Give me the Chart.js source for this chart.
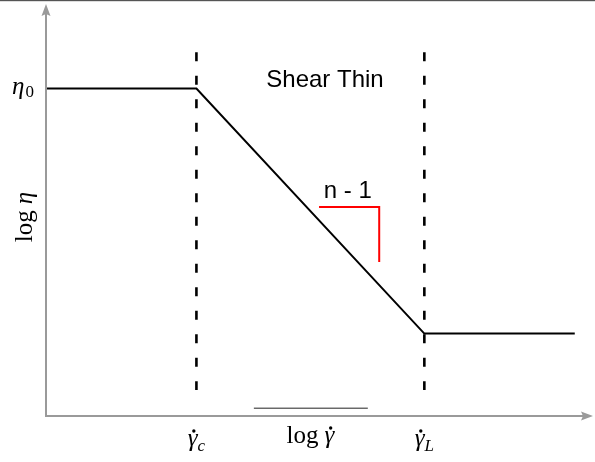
<!DOCTYPE html>
<html>
<head>
<meta charset="utf-8">
<script src="https://cdn.jsdelivr.net/npm/chart.js@4/dist/chart.umd.min.js"></script>
<style>
  html, body { margin: 0; padding: 0; background: #fff; }
  #wrap { width: 595px; height: 462px; position: relative; }
</style>
</head>
<body>
<div id="wrap"><canvas id="c" width="595" height="462"></canvas></div>
<script>
// Viscosity curve (log η vs log shear rate), abstract log units
const curveX = [0, 3.3, 8.3, 11.6];
const curveY = [7.95, 7.95, 2.0, 2.0];

// Critical shear rates marked by dashed verticals
const criticalX = [3.3, 8.3];
const criticalSubs = ["c", "L"];
const dashRange = [8.83, 0.63];

// Slope marker (n - 1)
const slopeX = [5.99, 7.31, 7.31];
const slopeY = [5.07, 5.07, 3.74];
const slopeLabel = "n - 1";
const slopeLabelPos = [6.62, 5.29];

// Region label
const regionLabel = "Shear Thin";
const regionLabelPos = [6.12, 7.98];

// Short rule under the curve area
const ruleX = [4.56, 7.06];
const ruleY = 0.19;

const xRange = [0, 12];
const yRange = [0, 10];

const pts = (xs, ys) => xs.map((x, i) => ({ x, y: ys[i] }));

const datasets = [
  {
    data: pts(curveX, curveY),
    borderColor: '#000', borderWidth: 2, pointRadius: 0, tension: 0
  },
  ...criticalX.map(x => ({
    data: [{ x, y: dashRange[0] }, { x, y: dashRange[1] }],
    borderColor: '#000', borderWidth: 2.6, borderDash: [9, 14.5],
    pointRadius: 0, borderCapStyle: 'butt'
  })),
  {
    data: pts(slopeX, slopeY),
    borderColor: '#ff0000', borderWidth: 2, pointRadius: 0,
    borderJoinStyle: 'miter'
  },
  {
    data: ruleX.map(x => ({ x, y: ruleY })),
    borderColor: '#222', borderWidth: 1, pointRadius: 0
  }
];

const serif = '"Liberation Serif", "DejaVu Serif", serif';
const sans = '"Liberation Sans", "DejaVu Sans", sans-serif';
const MATH = 'italic 25px ' + serif;
const ROMAN = '25px ' + serif;
const SUB_IT = 'italic 17px ' + serif;
const SUB_RM = '17px ' + serif;

// Draws a run of text pieces centred on cx; a piece may carry an overdot.
function drawRun(ctx, cx, base, pieces) {
  let total = 0;
  pieces.forEach(p => { ctx.font = p.font; p.w = ctx.measureText(p.t).width; total += p.w + (p.gap || 0); });
  let cur = cx - total / 2;
  ctx.textAlign = 'left';
  pieces.forEach(p => {
    ctx.font = p.font;
    ctx.fillText(p.t, cur, base + (p.dy || 0));
    if (p.dot) {
      ctx.beginPath();
      ctx.arc(cur + p.w * 0.62, base - 15, 1.7, 0, Math.PI * 2);
      ctx.fill();
    }
    cur += p.w + (p.gap || 0);
  });
}

const decor = {
  id: 'decor',
  afterDatasetsDraw(chart) {
    const { ctx, chartArea: a, scales: { x, y } } = chart;
    ctx.save();

    // frame line along the top edge
    ctx.fillStyle = '#555';
    ctx.fillRect(0, 0, chart.width, 1.2);

    // axes with arrow heads
    ctx.strokeStyle = '#9a9a9a';
    ctx.fillStyle = '#9a9a9a';
    ctx.lineWidth = 2;
    ctx.beginPath();
    ctx.moveTo(a.left, a.bottom);
    ctx.lineTo(a.left, a.top + 8);
    ctx.moveTo(a.left - 1, a.bottom);
    ctx.lineTo(a.right - 8, a.bottom);
    ctx.stroke();
    ctx.beginPath();
    ctx.moveTo(a.left, a.top);
    ctx.lineTo(a.left + 4.5, a.top + 12);
    ctx.lineTo(a.left, a.top + 10);
    ctx.lineTo(a.left - 4.5, a.top + 12);
    ctx.closePath();
    ctx.fill();
    ctx.beginPath();
    ctx.moveTo(a.right, a.bottom);
    ctx.lineTo(a.right - 12, a.bottom - 4.5);
    ctx.lineTo(a.right - 10, a.bottom);
    ctx.lineTo(a.right - 12, a.bottom + 4.5);
    ctx.closePath();
    ctx.fill();

    ctx.fillStyle = '#000';
    ctx.textBaseline = 'alphabetic';

    // text labels inside the plot
    ctx.font = '24px ' + sans;
    ctx.textAlign = 'center';
    ctx.fillText(regionLabel, x.getPixelForValue(regionLabelPos[0]), y.getPixelForValue(regionLabelPos[1]));
    ctx.fillText(slopeLabel, x.getPixelForValue(slopeLabelPos[0]), y.getPixelForValue(slopeLabelPos[1]));

    // tick labels at the critical shear rates
    criticalX.forEach((v, i) => {
      drawRun(ctx, x.getPixelForValue(v), a.bottom + 30, [
        { t: 'γ', font: MATH, dot: true, gap: 0 },
        { t: criticalSubs[i], font: SUB_IT, dy: 5 }
      ]);
    });

    // x axis title
    drawRun(ctx, (a.left + a.right) / 2 - 9, a.bottom + 27, [
      { t: 'log', font: ROMAN, gap: 6 },
      { t: 'γ', font: MATH, dot: true }
    ]);

    // y tick label η0 at the upper plateau
    drawRun(ctx, 23, y.getPixelForValue(curveY[0]) + 6, [
      { t: 'η', font: MATH, gap: 1 },
      { t: '0', font: SUB_RM, dy: 3 }
    ]);

    // y axis title, rotated
    ctx.translate(32, (a.top + a.bottom) / 2 + 7);
    ctx.rotate(-Math.PI / 2);
    drawRun(ctx, 0, 0, [
      { t: 'log', font: ROMAN, gap: 6 },
      { t: 'η', font: MATH }
    ]);

    ctx.restore();
  }
};

new Chart(document.getElementById('c'), {
  type: 'scatter',
  data: { datasets: datasets.map(d => ({ ...d, showLine: true, fill: false })) },
  options: {
    responsive: false,
    animation: false,
    events: [],
    layout: { padding: { left: 46, right: 2, top: 4, bottom: 46 } },
    plugins: { legend: { display: false }, tooltip: { enabled: false } },
    scales: {
      x: { type: 'linear', display: false, min: xRange[0], max: xRange[1] },
      y: { type: 'linear', display: false, min: yRange[0], max: yRange[1] }
    }
  },
  plugins: [decor]
});
</script>
</body>
</html>
